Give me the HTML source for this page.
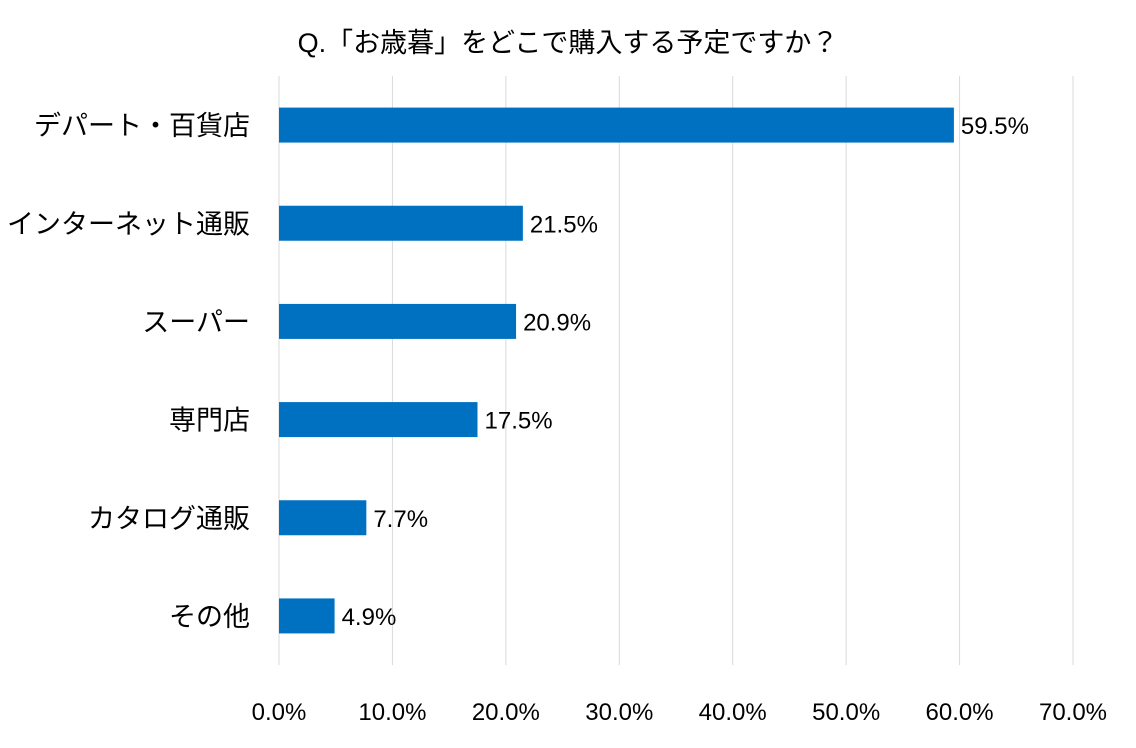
<!DOCTYPE html>
<html><head><meta charset="utf-8"><style>
body{margin:0;background:#fff;}
svg text{font-family:"Liberation Sans","Noto Sans CJK JP",sans-serif;fill:#000;}
</style></head><body>
<svg width="1136" height="743" xmlns="http://www.w3.org/2000/svg">
<rect width="1136" height="743" fill="#fff"/>
<text x="568" y="52" font-size="27" text-anchor="middle">Q.「お歳暮」をどこで購入する予定ですか？</text>
<g id="grid"></g><g id="bars"></g><g id="labels"></g>
</svg>
<script>
const categories=["デパート・百貨店","インターネット通販","スーパー","専門店","カタログ通販","その他"];
const values=[59.5,21.5,20.9,17.5,7.7,4.9];
const ticks=[0,10,20,30,40,50,60,70];
const tickLabels=["0.0%","10.0%","20.0%","30.0%","40.0%","50.0%","60.0%","70.0%"];
const NS="http://www.w3.org/2000/svg";
const x0=279,x1=1073,yTop=76,yBot=665;
const xs=v=>x0+(v/70)*(x1-x0);
const band=(yBot-yTop)/categories.length;
const yc=i=>yTop+band*(i+0.5);
const grid=document.getElementById('grid'),bars=document.getElementById('bars'),labels=document.getElementById('labels');
function mk(tag,attrs,parent){const e=document.createElementNS(NS,tag);for(const k in attrs)e.setAttribute(k,attrs[k]);parent.appendChild(e);return e;}
ticks.forEach((t,i)=>{
  const l=mk('line',{x1:xs(t),x2:xs(t),y1:yTop,y2:yBot,stroke:'#d9d9d9','stroke-width':1},grid);
  
  
  const tx=mk('text',{x:xs(t),y:720,'font-size':24,'text-anchor':'middle'},labels);
  tx.textContent=tickLabels[i];
  
  
});
categories.forEach((c,i)=>{
  const h=35;
  const r=mk('rect',{x:x0,y:yc(i)-h/2,width:xs(values[i])-x0,height:h,fill:'#0070c0'},bars);
  
  
  const v=mk('text',{x:xs(values[i])+7,y:yc(i)+9,'font-size':24},labels);
  v.textContent=values[i].toFixed(1)+'%';
  
  
  const cl=mk('text',{x:250,y:yc(i)+10,'font-size':27,'text-anchor':'end'},labels);
  cl.textContent=c;
  
  
});
</script>
</body></html>
